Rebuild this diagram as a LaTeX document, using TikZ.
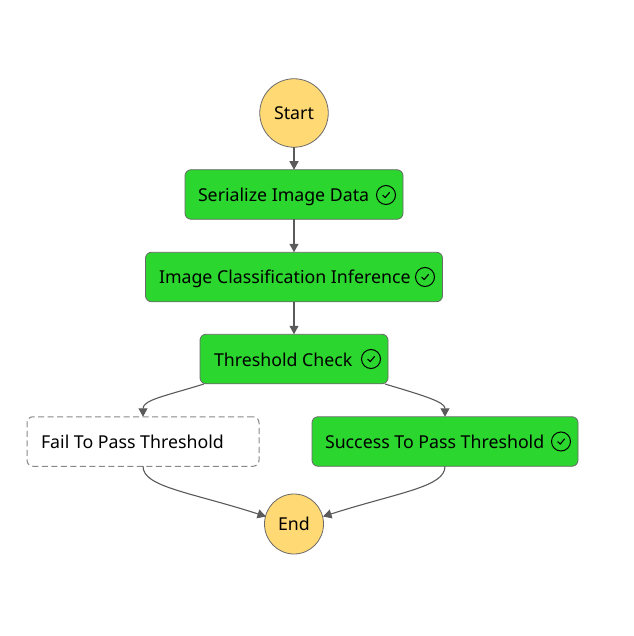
\documentclass[tikz,border=0pt]{standalone}
\usepackage{fontspec}
\setmainfont{Noto Sans}
\usetikzlibrary{arrows.meta,shapes.geometric,calc}
\definecolor{okgreen}{HTML}{2BD62E}
\definecolor{startfill}{HTML}{FFD974}
\definecolor{edgegray}{HTML}{6A6A6A}
\definecolor{linegray}{HTML}{5A5A5A}
\tikzset{
  every node/.style={inner sep=0pt,outer sep=0pt},
  statebox/.style={draw=edgegray,line width=0.8pt,rounded corners=6pt,fill=okgreen,minimum height=49.5pt},
  skipbox/.style={draw=edgegray!80,line width=1pt,dash pattern=on 6pt off 3.5pt,rounded corners=6pt,fill=white,minimum height=49.5pt},
  terminal/.style={draw=edgegray,line width=0.8pt,fill=startfill},
  lbl/.style={anchor=base west,font=\fontsize{17.75}{20}\selectfont,text=black},
  termlbl/.style={font=\fontsize{17.75}{20}\selectfont,text=black},
  okring/.style={circle,draw=black,line width=1pt,minimum size=19pt},
  tick/.style={draw=black,line width=1.1pt,line cap=round,line join=round},
  conn/.style={draw=linegray,line width=1.1pt,-{Triangle[length=8.5pt,width=9pt]}},
}
\newcommand{\tickat}[1]{\draw[tick] ($(#1)+(-3.2,0.3)$) -- ($(#1)+(-0.8,2.6)$) -- ($(#1)+(3.4,-2.4)$);}
\begin{document}
\begin{tikzpicture}[x=1pt,y=-1pt]
\useasboundingbox (0,0) rectangle (633,636);
\fill[white] (0,0) rectangle (633,636);
\node[terminal,circle,minimum size=68.5pt] (start) at (294,113) {};
\node[termlbl] (startlbl) at (294,113) {Start};
\node[statebox,minimum width=218pt] (ser) at (294,194.5) {};
\node[lbl] (serlbl) at (198,201) {Serialize Image Data};
\node[okring] (serok) at (386,195) {};
\tickat{serok}
\node[statebox,minimum width=297pt] (img) at (294,277) {};
\node[lbl] (imglbl) at (159,283) {Image Classification Inference};
\node[okring] (imgok) at (425,277) {};
\tickat{imgok}
\node[statebox,minimum width=188pt] (thr) at (294,359) {};
\node[lbl] (thrlbl) at (214,366) {Threshold Check};
\node[okring] (throk) at (371,359) {};
\tickat{throk}
\node[skipbox,minimum width=232pt] (fail) at (143,441.5) {};
\node[lbl] (faillbl) at (41,448) {Fail To Pass Threshold};
\node[statebox,minimum width=266pt] (succ) at (445,441.5) {};
\node[lbl] (succlbl) at (325,448) {Success To Pass Threshold};
\node[okring] (succok) at (561,441.5) {};
\tickat{succok}
\node[terminal,ellipse,minimum width=59pt,minimum height=60pt] (end) at (294,524) {};
\node[termlbl] (endlbl) at (294,524) {End};
\coordinate (thrL) at (204,384);
\coordinate (thrR) at (385,384);
\coordinate (endL) at (266,516.5);
\coordinate (endR) at (323,516.5);
\draw[conn] (start.south) -- (ser.north);
\draw[conn] (ser.south) -- (img.north);
\draw[conn] (img.south) -- (thr.north);
\draw[conn] (thrL) .. controls (165,396) and (143,400) .. (fail.north);
\draw[conn] (thrR) .. controls (425,396) and (445,402) .. (succ.north);
\draw[conn] (fail.south) .. controls (143,487) and (190,492) .. (endL);
\draw[conn] (succ.south) .. controls (445,487) and (400,492) .. (endR);
\end{tikzpicture}
\end{document}
